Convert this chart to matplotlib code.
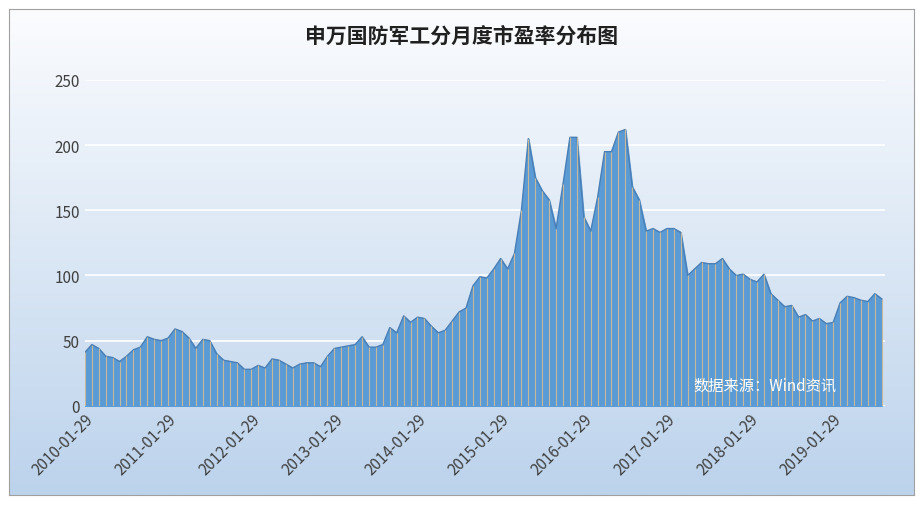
import numpy as np
import matplotlib.pyplot as plt

plt.rcParams['font.family'] = ['Noto Sans CJK SC', 'DejaVu Sans']

pe = [41, 47, 44, 38, 37, 34, 38, 43, 45, 53, 51, 50, 52, 59, 57, 52, 44, 51, 50, 40,
      35, 34, 33, 28, 28, 31, 29, 36, 35, 32, 29, 32, 33, 33, 30, 38, 44, 45, 46, 47,
      53, 45, 45, 47, 60, 56, 69, 64, 68, 67, 61, 56, 58, 65, 72, 75,
      92, 99, 98, 105, 113, 105, 117, 150, 205, 175, 165, 158, 136, 170, 206, 206,
      145, 134, 160, 195, 195, 210, 212, 168, 158, 134, 136, 133, 136, 136, 133, 100,
      105, 110, 109, 109, 113, 105, 100, 101, 97, 95, 101, 86, 81, 76, 77, 68, 70, 65,
      67, 63, 64, 79, 84, 83, 81, 80, 86, 82]
tick_labels = ['%d-01-29' % y for y in range(2010, 2020)]
title = '申万国防军工分月度市盈率分布图'
source = '数据来源：Wind资讯'

fig = plt.figure(figsize=(9.23, 5.06), dpi=100)
bg = fig.add_axes([0.01, 0.02, 0.98, 0.96])
grad = np.linspace(0, 1, 256).reshape(-1, 1)
bg.imshow(grad, aspect='auto', cmap=plt.matplotlib.colors.LinearSegmentedColormap.from_list(
    'g', ['#fbfcfe', '#bcd3ec']), extent=[0, 1, 0, 1], origin='upper')
for s in bg.spines.values():
    s.set_color('#a0a0a0')
bg.set_xticks([]); bg.set_yticks([])

ax = fig.add_axes([0.092, 0.196, 0.867, 0.644])
ax.patch.set_alpha(0)
x = np.arange(len(pe))
ax.fill_between(x, pe, 0, color='#5b9bd5', zorder=2)
ax.plot(x, pe, color='#4a7fb5', lw=1, zorder=3)
ax.vlines(x, 0, pe, color='#c8b89a', lw=0.8, zorder=3)
ax.set_xlim(0, len(pe) - 0.5)
ax.set_ylim(0, 250)
ax.set_yticks(range(0, 251, 50))
ax.yaxis.grid(True, color='white', lw=1.2, zorder=1)
ax.set_axisbelow(True)
for s in ax.spines.values():
    s.set_visible(False)
ax.tick_params(length=0, labelsize=11, colors='#404040')
ax.set_xticks(range(0, len(pe), 12))
ax.set_xticklabels(tick_labels, rotation=45, ha='right', rotation_mode='anchor')
ax.text(0.76, 0.05, source, transform=ax.transAxes, color='white', fontsize=11, zorder=5)
fig.text(0.5, 0.915, title, ha='center', fontsize=15, fontweight='bold', color='#202020')
fig.savefig('out.png')
